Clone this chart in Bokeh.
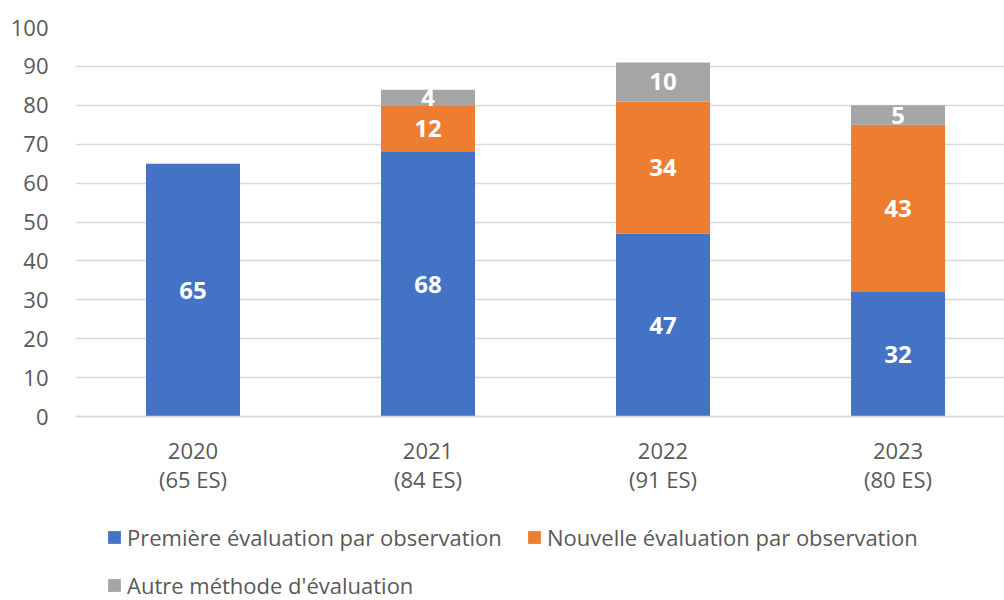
from bokeh.plotting import figure
from bokeh.models import (ColumnDataSource, Range1d, FixedTicker, LinearAxis,
                          Legend, LegendItem)
from bokeh.core.properties import value
from bokeh.embed import file_html
from bokeh.resources import INLINE

# ---- data ----
years = ["2020", "2021", "2022", "2023"]
es_counts = ["(65 ES)", "(84 ES)", "(91 ES)", "(80 ES)"]
premiere = [65, 68, 47, 32]
nouvelle = [0, 12, 34, 43]
autre = [0, 4, 10, 5]
series_names = ["Première évaluation par observation",
                "Nouvelle évaluation par observation",
                "Autre méthode d'évaluation"]
colors = ["#4472C4", "#ED7D31", "#A5A5A5"]
y_ticks = [0, 10, 20, 30, 40, 50, 60, 70, 80, 90, 100]

FONT = "Open Sans"
GREY = "#595959"

xs = [i + 0.5 for i in range(len(years))]
src = ColumnDataSource(dict(x=xs, premiere=premiere, nouvelle=nouvelle, autre=autre))

# frame spans down to the bottom of the canvas; the value axis 0..100 occupies the top part
p = figure(width=1004, height=600, output_backend="svg", toolbar_location=None,
           x_range=Range1d(0, 3.953), y_range=Range1d(-47.3, 100),
           min_border_left=75, min_border_top=27, min_border_right=0,
           min_border_bottom=0, outline_line_color=None)

renderers = p.vbar_stack(["premiere", "nouvelle", "autre"], x="x", width=0.4,
                         source=src, color=colors, line_color=None)

# labels in the middle of each segment
lx, ly, lt = [], [], []
for i in range(len(years)):
    base = 0
    for v in (premiere[i], nouvelle[i], autre[i]):
        if v:
            lx.append(xs[i]); ly.append(base + v / 2); lt.append(str(v))
        base += v
p.text(x=lx, y=ly, text=lt, text_color="white", text_font=value(FONT),
       text_font_style="bold", text_font_size="24px", text_align="center",
       text_baseline="middle")

# y axis
p.yaxis.ticker = FixedTicker(ticks=y_ticks)
p.yaxis.axis_line_color = None
p.yaxis.major_tick_line_color = None
p.yaxis.minor_tick_line_color = None
p.yaxis.major_label_standoff = 21
p.yaxis.major_label_text_font = FONT
p.yaxis.major_label_text_font_size = "22px"
p.yaxis.major_label_text_color = GREY

p.ygrid.ticker = FixedTicker(ticks=y_ticks)
p.ygrid.grid_line_color = "#D9D9D9"
p.ygrid.grid_line_width = 1.5
p.xgrid.grid_line_color = None

# x axis: years, placed at value 0
p.xaxis.fixed_location = 0
p.xaxis.ticker = FixedTicker(ticks=xs)
p.xaxis.major_label_overrides = {x: y for x, y in zip(xs, years)}
p.xaxis.axis_line_color = "#D9D9D9"
p.xaxis.axis_line_width = 1.5
p.xaxis.major_tick_line_color = None
p.xaxis.minor_tick_line_color = None
p.xaxis.major_label_standoff = 20
p.xaxis.major_label_text_font = FONT
p.xaxis.major_label_text_font_size = "22px"
p.xaxis.major_label_text_color = GREY

# second line of x labels
ax2 = LinearAxis(ticker=FixedTicker(ticks=xs), fixed_location=0,
                 major_label_overrides={x: c for x, c in zip(xs, es_counts)})
ax2.axis_line_color = None
ax2.major_tick_line_color = None
ax2.minor_tick_line_color = None
ax2.major_label_standoff = 41
ax2.major_label_text_font = FONT
ax2.major_label_text_font_size = "22px"
ax2.major_label_text_color = GREY
p.add_layout(ax2, "below")

# legend, two columns (column-major fill: first column = items 0 and 1)
order = [0, 2, 1]
items = [LegendItem(label=series_names[k], renderers=[renderers[k]]) for k in order]
lg = Legend(items=items, location=(31, 0), ncols=2,
            border_line_color=None, background_fill_alpha=0,
            padding=0, margin=0, spacing=18,
            glyph_width=16, glyph_height=16, label_standoff=5,
            label_width=381,
            label_text_font=FONT, label_text_font_size="22px",
            label_text_color=GREY, label_height=16)
p.add_layout(lg, "center")

open("out.html", "w").write(file_html(p, INLINE))
